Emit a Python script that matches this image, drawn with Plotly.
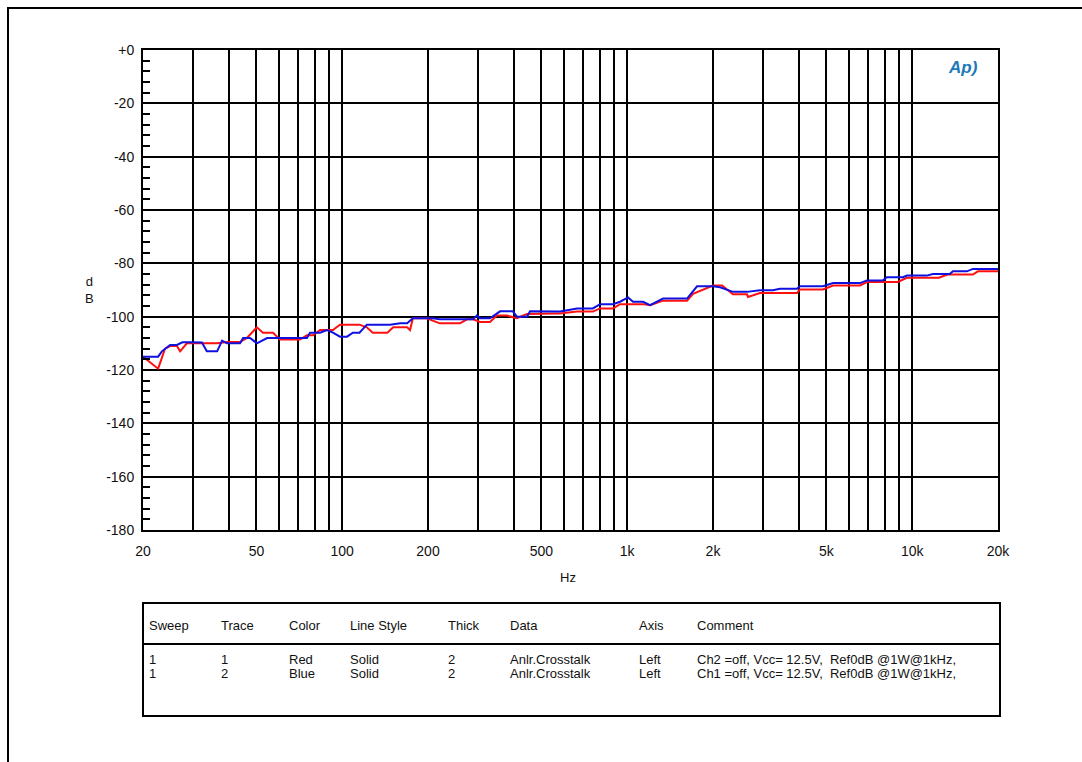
import plotly.graph_objects as go

# ---------------- data ----------------
red_freq = [20, 22.6, 23.9, 24.9, 26.3, 27.0, 28.5, 30.4, 33.5, 36.4, 39.4, 43.8, 46.3, 50.2, 52.7,
            57.2, 60.5, 71.1, 75.2, 79.0, 83.6, 92.8, 98.2, 115, 122, 128, 144, 151, 169, 173, 177,
            198, 220, 259, 274, 288, 304, 330, 349, 379, 410, 445, 560, 581, 667, 758, 803, 892,
            944, 1136, 1203, 1336, 1622, 1702, 2000, 2152, 2350, 2632, 2654, 2924, 3944, 4036,
            4864, 5274, 6560, 6934, 8900, 9580, 12400, 13300, 16330, 17000, 20000]
red_db = [-115, -119.5, -112, -111, -111, -113, -110, -110, -110, -110, -109.5, -109.5, -108, -104, -106,
          -106, -108.6, -108.6, -107, -107, -105, -105, -103, -103, -104, -106, -106, -104, -104, -105, -100.6,
          -100.6, -102.5, -102.5, -101, -101, -102, -102, -99.6, -99.6, -100.6, -99, -98.8, -98.8, -98.1, -98.1, -96.9, -96.9,
          -95.3, -95.3, -95.7, -94, -94, -91.4, -88.3, -88.3, -91.6, -91.6, -92.6, -91.1, -91.1, -89.8,
          -89.8, -88.3, -88.3, -87, -87, -85.4, -85.4, -84.2, -84.2, -83, -83]

blue_freq = [20, 22.6, 23.3, 24.9, 26.3, 27.5, 29.2, 30.4, 32.2, 33.5, 36.4, 37.9, 39.4, 43.8, 44.9,
             47.5, 50.2, 54.5, 75.2, 77.1, 83.6, 88.4, 92.8, 98.2, 104, 109, 115, 122, 147, 160,
             169, 177, 208, 220, 288, 297, 304, 330, 358, 397, 410, 445, 456, 581, 667, 758, 803,
             892, 944, 1007, 1048, 1136, 1203, 1336, 1622, 1758, 2000, 2117, 2350, 2632, 2924, 3246,
             3436, 3944, 4036, 4864, 5274, 6560, 6934, 7892, 8150, 9283, 9580, 11250, 11820, 13540,
             13900, 15560, 16330, 20000]
blue_db = [-115, -115, -113, -110.6, -110.6, -109.6, -109.6, -109.7, -109.7, -113, -113, -109, -110, -110, -108,
           -108, -110, -108, -108, -106, -106, -105, -106, -107.5, -107.5, -106, -106, -103, -103, -102.5,
           -102.5, -100.6, -100.6, -101, -101, -99.5, -100.6, -100.6, -98, -98, -100, -100, -98, -98.1, -96.9, -96.9, -95.3,
           -95.3, -94.4, -92.8, -94.4, -94.4, -95.7, -93.2, -93.2, -88.6, -88.6, -89, -90.7, -90.7, -90.1, -90.1,
           -89.5, -89.5, -88.6, -88.6, -87.4, -87.4, -86.4, -86.4, -85.2, -85.2, -84.6, -84.6, -84, -84,
           -83, -83, -82.1, -82.1]

x_grid_vals = [20, 30, 40, 50, 60, 70, 80, 90, 100, 200, 300, 400, 500, 600, 700, 800, 900,
               1000, 2000, 3000, 4000, 5000, 6000, 7000, 8000, 9000, 10000, 20000]
x_tick_labels = {20: "20", 50: "50", 100: "100", 200: "200", 500: "500", 1000: "1k",
                 2000: "2k", 5000: "5k", 10000: "10k", 20000: "20k"}
y_tick_vals = [0, -20, -40, -60, -80, -100, -120, -140, -160, -180]
y_tick_text = ["+0", "-20", "-40", "-60", "-80", "-100", "-120", "-140", "-160", "-180"]

table_headers = ["Sweep", "Trace", "Color", "Line Style", "Thick", "Data", "Axis", "Comment"]
table_rows = [
    ["1", "1", "Red", "Solid", "2", "Anlr.Crosstalk", "Left", "Ch2 =off, Vcc= 12.5V,  Ref0dB @1W@1kHz,"],
    ["1", "2", "Blue", "Solid", "2", "Anlr.Crosstalk", "Left", "Ch1 =off, Vcc= 12.5V,  Ref0dB @1W@1kHz,"],
]

# ---------------- layout geometry (pixels) ----------------
FW, FH = 1082, 762
L, R, T, B = 143, 998, 50, 530
PW, PH = R - L, B - T


def px(x):
    return (x - L) / PW


def py(y):
    return (B - y) / PH


FONT = "Liberation Sans, Arial, sans-serif"

fig = go.Figure()
fig.add_trace(go.Scatter(x=red_freq, y=red_db, mode="lines",
                         line=dict(color="#ff1010", width=2), name="Red"))
fig.add_trace(go.Scatter(x=blue_freq, y=blue_db, mode="lines",
                         line=dict(color="#1010e0", width=2), name="Blue"))

fig.update_layout(
    width=FW, height=FH,
    margin=dict(l=L, r=FW - R, t=T, b=FH - B, pad=0),
    paper_bgcolor="white", plot_bgcolor="white",
    showlegend=False,
    font=dict(family=FONT, size=13, color="#111"),
)

fig.update_xaxes(
    type="log", range=[1.30103, 4.30103],
    tickvals=x_grid_vals,
    ticktext=[x_tick_labels.get(v, "") for v in x_grid_vals],
    showgrid=True, gridcolor="black", gridwidth=2,
    showline=True, linecolor="black", linewidth=2, mirror=True,
    ticks="", ticklabelstandoff=7,
    tickfont=dict(size=14, family=FONT, color="#111"),
    zeroline=False,
)
fig.update_yaxes(
    range=[-180, 0],
    tickvals=y_tick_vals, ticktext=y_tick_text,
    showgrid=True, gridcolor="black", gridwidth=2,
    showline=True, linecolor="black", linewidth=2, mirror=True,
    ticks="inside", ticklen=7, tickwidth=2, tickcolor="black",
    minor=dict(dtick=4, ticks="inside", ticklen=7, tickwidth=2, tickcolor="black", showgrid=False),
    ticklabelstandoff=4,
    tickfont=dict(size=14, family=FONT, color="#111"),
    zeroline=False,
)

shapes = []
# legend table box
shapes.append(dict(type="rect", xref="paper", yref="paper",
                   x0=px(143), x1=px(1000), y0=py(716), y1=py(603),
                   line=dict(color="black", width=2)))
shapes.append(dict(type="line", xref="paper", yref="paper",
                   x0=px(143), x1=px(1000), y0=py(644), y1=py(644),
                   line=dict(color="black", width=2)))
fig.update_layout(shapes=shapes)

ann = []
# outer frame: bordered box whose right and bottom edges fall outside the page
ann.append(dict(text=" ", x=px(7), y=py(7), xref="paper", yref="paper",
                showarrow=False, xanchor="left", yanchor="top",
                width=1300, height=1000, borderpad=0,
                bordercolor="black", borderwidth=2, bgcolor="rgba(0,0,0,0)"))
# axis titles
ann.append(dict(text="d<br>B", x=px(89), y=py(290), xref="paper", yref="paper",
                showarrow=False, xanchor="center", yanchor="middle",
                font=dict(size=13, family=FONT, color="#111")))
ann.append(dict(text="Hz", x=px(568), y=py(577), xref="paper", yref="paper",
                showarrow=False, xanchor="center", yanchor="middle",
                font=dict(size=13, family=FONT, color="#111")))
# AP logo
ann.append(dict(text="<i><b>Ap)</b></i>", x=px(963), y=py(67), xref="paper", yref="paper",
                showarrow=False, xanchor="center", yanchor="middle",
                font=dict(size=17, family=FONT, color="#1f78b8")))

col_x = [147, 219, 287, 348, 446, 508, 637, 695]
for cx, h in zip(col_x, table_headers):
    ann.append(dict(text=h, x=px(cx), y=py(625), xref="paper", yref="paper",
                    showarrow=False, xanchor="left", yanchor="middle",
                    font=dict(size=13, family=FONT, color="#111")))
row_y = [659, 673]
for ry, row in zip(row_y, table_rows):
    for cx, cell in zip(col_x, row):
        ann.append(dict(text=cell, x=px(cx), y=py(ry), xref="paper", yref="paper",
                        showarrow=False, xanchor="left", yanchor="middle",
                        font=dict(size=13, family=FONT, color="#111")))
fig.update_layout(annotations=ann)

fig.write_html("out.html")
